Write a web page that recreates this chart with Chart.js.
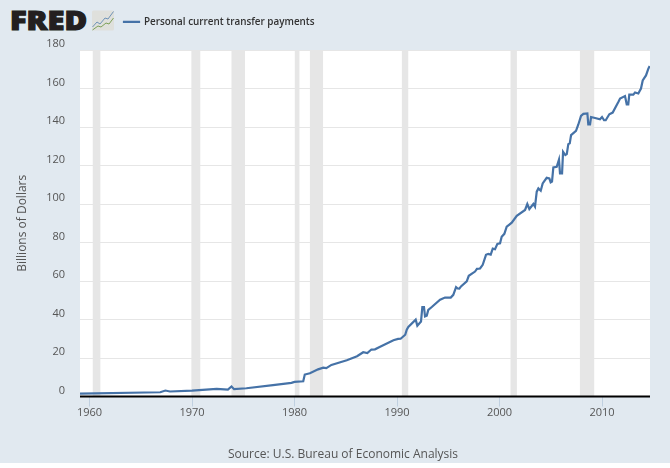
<!DOCTYPE html>
<html>
<head>
<meta charset="utf-8">
<title>Personal current transfer payments</title>
<script src="https://cdn.jsdelivr.net/npm/chart.js@4"></script>
<style>
html, body { margin: 0; padding: 0; background: #fff; }
#page { position: relative; width: 670px; height: 463px; background: #e1e9f0; overflow: visible; }
#transfers { position: absolute; left: 0; top: 0; }
#logo { position: absolute; left: 0; top: 0; }
#source { position: absolute; left: 0; width: 686px; top: 445px; text-align: center;
  font: 12px "Open Sans", sans-serif; color: #555; white-space: nowrap; }
</style>
</head>
<body>
<div id="page">
  <svg id="logo" width="120" height="36" xmlns="http://www.w3.org/2000/svg">
    <text x="10" y="30" font-family="Open Sans" font-weight="800" font-size="26.5" fill="#231f20" stroke="#231f20" stroke-width="1.2" textLength="77" lengthAdjust="spacingAndGlyphs">FRED</text>
    <rect x="92" y="10.5" width="22" height="20" rx="1.5" fill="#dfe0dc"/>
    <polyline points="92.5,27 97,22 100,24 105,18 108,19 113.5,11.5" fill="none" stroke="#6f93b8" stroke-width="1"/>
    <polyline points="92.5,30 98,26 101,27 106,23 109,24 113.5,18" fill="none" stroke="#7da05a" stroke-width="1"/>
  </svg>
  <canvas id="transfers" width="670" height="468"></canvas>
  <div id="source">Source: U.S. Bureau of Economic Analysis</div>
</div>
<script>
const seriesName = "Personal current transfer payments";
const years = [1959.07, 1966.9, 1967.4, 1967.85, 1970, 1972.4, 1973.5, 1973.85, 1974.1, 1975.3, 1977.9, 1979.7, 1980, 1980.85, 1981, 1981.5, 1982.3, 1982.8, 1983.1, 1983.6, 1985.1, 1986.1, 1986.7, 1987.1, 1987.5, 1987.85, 1988.3, 1989.65, 1990.1, 1990.35, 1990.8, 1990.95, 1991.1, 1991.82, 1991.98, 1992.34, 1992.47, 1992.63, 1992.73, 1992.9, 1993.05, 1993.39, 1994.2, 1994.68, 1995.24, 1995.49, 1995.76, 1995.92, 1996.08, 1996.24, 1996.8, 1997, 1997.61, 1997.8, 1998.1, 1998.36, 1998.68, 1998.9, 1999.14, 1999.34, 1999.56, 1999.79, 2000.05, 2000.21, 2000.47, 2000.7, 2000.96, 2001.19, 2001.68, 2002.49, 2002.71, 2002.91, 2003.3, 2003.46, 2003.63, 2003.79, 2004.02, 2004.21, 2004.6, 2004.86, 2004.99, 2005.12, 2005.25, 2005.58, 2005.8, 2005.9, 2006.1, 2006.2, 2006.42, 2006.56, 2006.71, 2006.85, 2006.98, 2007.46, 2007.69, 2007.95, 2008.18, 2008.57, 2008.66, 2008.83, 2008.93, 2009.32, 2009.8, 2010, 2010.2, 2010.36, 2010.71, 2011.04, 2011.59, 2011.76, 2012.24, 2012.41, 2012.56, 2012.66, 2013.05, 2013.22, 2013.54, 2013.8, 2013.97, 2014.29, 2014.52, 2014.65];
const values = [1.5, 2.2, 3.1, 2.6, 3.1, 4, 3.6, 5.2, 3.8, 4.3, 5.9, 7.1, 7.6, 7.9, 11.4, 12.1, 14.1, 15, 14.7, 16.4, 18.8, 20.9, 23, 22.6, 24.4, 24.5, 25.7, 29.2, 29.9, 30, 32.1, 34.7, 36.1, 39.9, 36.8, 39, 46.5, 46.5, 41.6, 42, 45, 46.5, 50.3, 51.4, 51.4, 52.8, 56.8, 56.1, 56, 57.2, 59.8, 62.7, 64.9, 66.3, 66.5, 68.4, 73.6, 74.1, 73.7, 76.8, 76.5, 79.3, 79.6, 83, 84.5, 88.2, 89.3, 90.3, 93.9, 96.9, 100, 97.4, 100, 98.6, 106.4, 108.1, 106.9, 110.7, 113.6, 113.3, 111.2, 111.6, 119, 119.3, 123.1, 115.9, 115.9, 127.1, 125.4, 125.9, 131.1, 131.5, 135.8, 138, 141.3, 145.8, 146.8, 147, 141.3, 141.3, 145.2, 144.7, 144, 145.2, 143.5, 143.5, 146.6, 147.5, 153, 154.8, 156.1, 151.8, 151.8, 156.8, 156.8, 157.9, 157.4, 160, 164.2, 166.8, 170.3, 171.7];
const recessionStarts = [1960.29, 1969.92, 1973.83, 1980.0, 1981.48, 1990.45, 2001.05, 2007.82];
const recessionEnds = [1961.08, 1970.83, 1975.17, 1980.5, 1982.8, 1991.12, 2001.7, 2009.26];
const xTicks = [1960, 1970, 1980, 1990, 2000, 2010];
const yTicks = [0, 20, 40, 60, 80, 100, 120, 140, 160, 180];
const yTitle = "Billions of Dollars";
const xMin = 1959.07;
const xMax = 2014.68;

const FONT = "Open Sans";
const TEXT = "#555";

const recessionSets = recessionStarts.map((start, i) => ({
  label: "Recession",
  data: [{ x: start, y: 180 }, { x: recessionEnds[i], y: 180 }],
  borderWidth: 0,
  pointRadius: 0,
  backgroundColor: "#e6e6e6",
  fill: "origin",
  order: 2
}));

// white plot background and legend spot next to the logo
const plotBits = {
  id: "plotBits",
  afterLayout(chart) {
    const lg = chart.legend;
    const w = lg.width;
    lg.left = 119; lg.right = 119 + w;
    lg.top = 12; lg.bottom = 12 + lg.height;
  },
  beforeDraw(chart) {
    const a = chart.chartArea;
    chart.ctx.save();
    chart.ctx.fillStyle = "#fff";
    chart.ctx.fillRect(a.left, a.top, a.right - a.left, a.bottom - a.top);
    chart.ctx.restore();
  }
};

new Chart(document.getElementById("transfers"), {
  type: "line",
  data: {
    datasets: [
      {
        label: seriesName,
        data: years.map((y, i) => ({ x: y, y: values[i] })),
        borderColor: "#4572a7",
        backgroundColor: "#4572a7",
        borderWidth: 2.2,
        pointRadius: 0,
        tension: 0,
        fill: false,
        order: 1
      },
      {
        // heavy black baseline along zero
        label: "Zero line",
        data: [{ x: xMin, y: 0 }, { x: xMax, y: 0 }],
        borderColor: "#000",
        borderWidth: 2,
        pointRadius: 0,
        fill: false,
        clip: false,
        order: 0
      },
      ...recessionSets
    ]
  },
  plugins: [plotBits],
  options: {
    responsive: false,
    animation: false,
    layout: { padding: { left: 0, right: 20, top: 50, bottom: 0 } },
    plugins: {
      tooltip: { enabled: false },
      legend: {
        position: "chartArea",
        align: "start",
        labels: {
          filter: item => item.text === seriesName,
          boxWidth: 15,
          boxHeight: 0.01,
          padding: 5,
          color: "#333",
          font: { family: FONT, size: 9.9, weight: "600" }
        }
      }
    },
    scales: {
      x: {
        type: "linear",
        min: xMin,
        max: xMax,
        afterFit(s) { s.height = 71.5; },
        afterBuildTicks(s) { s.ticks = xTicks.map(v => ({ value: v })); },
        border: { display: false },
        grid: { drawOnChartArea: false, drawTicks: true, tickLength: 10, tickColor: "#c0d0e0", tickWidth: 1 },
        ticks: {
          autoSkip: false,
          maxRotation: 0,
          padding: 0,
          color: TEXT,
          font: { family: FONT, size: 11 },
          callback: v => String(v)
        }
      },
      y: {
        min: 0,
        max: 180,
        afterFit(s) { s.width = 80; },
        afterBuildTicks(s) { s.ticks = yTicks.map(v => ({ value: v })); },
        border: { display: false },
        grid: { color: "#e6e6e6", lineWidth: 1, drawTicks: false },
        title: {
          display: true,
          text: yTitle,
          color: TEXT,
          padding: { top: 15, bottom: 0 },
          font: { family: FONT, size: 12 }
        },
        ticks: {
          padding: 15,
          labelOffset: -6,
          color: TEXT,
          font: { family: FONT, size: 11 }
        }
      }
    }
  }
});
</script>
</body>
</html>
